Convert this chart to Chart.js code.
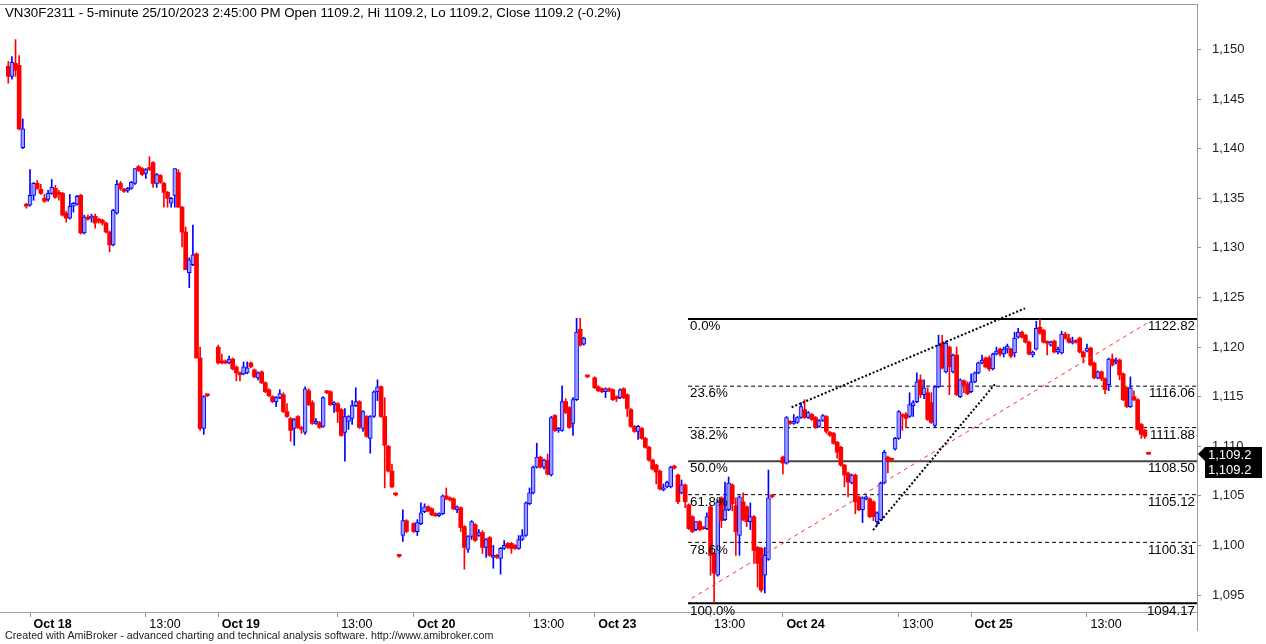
<!DOCTYPE html>
<html>
<head>
<meta charset="utf-8">
<script src="https://cdn.jsdelivr.net/npm/chart.js@4.4.0/dist/chart.umd.min.js"></script>
<style>
body { margin: 0; background: #fff; }
#wrap { position: relative; width: 1266px; height: 644px; }
#title { position: absolute; left: 5px; top: 5px; font: 13.3px "Liberation Sans", Arial, sans-serif; color: #000; white-space: nowrap; }
#foot { position: absolute; left: 5px; top: 629px; font: 10.7px "Liberation Sans", Arial, sans-serif; color: #222; white-space: nowrap; }
</style>
</head>
<body>
<div id="wrap">
<canvas id="c"></canvas>
<div id="title">VN30F2311 - 5-minute 25/10/2023 2:45:00 PM Open 1109.2, Hi 1109.2, Lo 1109.2, Close 1109.2 (-0.2%)</div>
<div id="foot">Created with AmiBroker - advanced charting and technical analysis software. http://www.amibroker.com</div>
</div>
<script>
// 5-minute bars, [open, high, low, close]
var oct17 = [
	[1148.3,1148.8,1146.6,1147.3],[1147.3,1149.3,1147.0,1148.7],[1148.6,1151.0,1147.3,1147.9],
	[1148.4,1149.4,1141.9,1142.0],[1140.1,1143.0,1140.0,1142.0],[1134.4,1134.5,1134.0,1134.2]
];
var oct18 = [
	[1134.3,1137.9,1134.2,1135.3],[1135.3,1136.6,1134.8,1136.5],[1136.5,1136.8,1135.9,1136.0],[1135.9,1136.4,1135.4,1135.5],
	[1135.0,1135.4,1134.6,1134.7],[1134.9,1135.8,1134.7,1135.5],[1135.5,1136.9,1135.4,1136.1],[1136.0,1136.3,1135.0,1135.1],
	[1135.6,1135.8,1134.8,1135.4],[1135.5,1135.6,1133.2,1133.3],[1133.5,1133.7,1132.6,1133.0],[1133.0,1135.4,1132.9,1134.2],
	[1134.2,1134.6,1133.6,1134.5],[1134.4,1135.3,1134.3,1135.2],[1135.3,1135.4,1131.4,1131.5],[1131.5,1133.3,1131.4,1133.1],
	[1133.1,1133.3,1132.8,1132.9],[1133.0,1133.4,1132.6,1133.2],[1133.2,1133.4,1132.0,1132.5],[1132.9,1133.0,1132.5,1132.7],
	[1132.8,1132.9,1132.3,1132.5],[1132.5,1132.6,1131.5,1131.6],[1131.6,1131.7,1129.6,1130.3],[1130.3,1133.9,1130.2,1133.8],
	[1133.5,1136.8,1133.4,1136.4],[1136.5,1136.7,1135.8,1136.0],[1135.9,1136.0,1135.6,1135.7],[1135.8,1136.1,1135.6,1136.0],
	[1136.0,1136.7,1135.9,1136.6],[1136.5,1138.0,1136.4,1138.0],[1138.2,1138.3,1137.7,1137.8],[1138.0,1138.1,1137.3,1137.4],
	[1137.5,1138.0,1137.0,1137.9],[1138.0,1139.2,1137.8,1137.9],[1138.6,1138.7,1136.1,1136.5],[1136.5,1137.5,1136.1,1137.4],
	[1137.3,1137.4,1136.5,1136.6],[1136.5,1136.6,1134.1,1135.6],[1135.6,1135.7,1134.1,1135.0],[1134.5,1135.1,1134.1,1135.0],
	[1135.3,1138.0,1134.1,1138.0],[1137.6,1137.9,1134.1,1134.1],[1134.1,1134.2,1130.1,1131.6],[1131.6,1132.1,1127.8,1127.8],
	[1127.5,1129.0,1126.0,1128.8],[1128.3,1132.3,1128.2,1129.3],[1129.4,1129.5,1118.9,1118.9],[1118.9,1120.0,1111.6,1111.8],
	[1111.8,1115.1,1111.2,1115.0],[1115.1,1115.2,1115.0,1115.1]
];
var oct19 = [
	[1120.0,1120.2,1118.3,1118.4],[1118.5,1119.3,1118.3,1118.4],[1118.6,1118.7,1118.3,1118.4],[1118.4,1119.1,1118.3,1118.8],
	[1118.8,1118.9,1117.7,1117.8],[1118.0,1118.1,1116.6,1117.4],[1117.4,1117.5,1116.6,1117.2],[1117.3,1118.5,1117.2,1118.0],
	[1117.4,1118.5,1117.3,1117.9],[1118.4,1118.5,1117.9,1118.0],[1117.7,1117.8,1116.9,1117.0],[1116.9,1117.5,1116.7,1117.4],
	[1117.5,1117.6,1116.3,1116.4],[1116.4,1116.5,1115.4,1115.5],[1115.7,1115.8,1115.0,1115.1],[1115.0,1115.1,1114.4,1114.5],
	[1114.5,1115.0,1114.0,1114.9],[1114.9,1115.7,1114.8,1115.3],[1115.2,1115.4,1113.4,1113.5],[1113.5,1114.3,1112.9,1113.0],
	[1112.8,1112.9,1110.5,1111.6],[1111.8,1112.8,1110.1,1112.7],[1113.0,1113.1,1111.8,1111.9],[1111.9,1112.0,1111.3,1111.7],
	[1111.4,1116.0,1111.2,1115.8],[1115.6,1115.8,1114.1,1114.2],[1114.4,1114.6,1112.2,1112.3],[1112.3,1112.8,1112.2,1112.5],
	[1112.4,1112.5,1111.8,1111.9],[1112.0,1115.0,1111.9,1114.9],[1115.5,1115.6,1115.3,1115.4],[1115.5,1115.6,1114.1,1114.2],
	[1114.2,1114.5,1113.4,1114.4],[1114.3,1114.4,1112.4,1113.5],[1113.7,1113.8,1111.0,1111.1],[1111.4,1113.8,1108.5,1113.0],
	[1112.5,1113.1,1111.7,1113.0],[1112.8,1114.6,1112.2,1114.1],[1114.1,1115.9,1114.0,1114.5],[1114.5,1114.6,1111.8,1111.9],
	[1111.8,1113.6,1111.5,1113.5],[1113.0,1113.1,1110.9,1111.0],[1110.8,1113.1,1109.3,1113.0],[1113.0,1115.6,1112.9,1115.5],
	[1115.5,1116.7,1114.6,1116.0],[1116.0,1116.1,1112.9,1113.0],[1113.0,1114.9,1105.8,1110.1],[1110.0,1110.1,1107.4,1107.5],
	[1107.5,1108.2,1105.8,1105.9],[1105.2,1105.3,1105.0,1105.1],[1099.0,1099.1,1098.8,1098.9],[1101.0,1103.6,1100.4,1102.5],
	[1102.5,1102.6,1101.3,1101.4]
];
var oct20 = [
	[1102.2,1102.3,1101.3,1101.4],[1101.4,1102.6,1101.0,1102.3],[1102.2,1104.3,1102.1,1103.3],[1103.4,1104.2,1103.3,1103.9],
	[1103.9,1104.0,1103.4,1103.5],[1103.7,1103.8,1103.0,1103.1],[1103.2,1103.3,1102.9,1103.0],[1103.0,1103.3,1102.9,1103.2],
	[1103.2,1105.1,1103.1,1105.0],[1105.0,1105.8,1104.6,1104.7],[1104.8,1104.9,1104.5,1104.6],[1104.7,1104.8,1103.6,1103.7],
	[1103.6,1104.0,1103.3,1103.9],[1103.8,1103.9,1101.4,1101.8],[1101.9,1102.0,1097.6,1099.8],[1099.6,1101.0,1099.3,1100.9],
	[1100.9,1102.5,1100.6,1102.4],[1102.1,1102.2,1100.4,1100.5],[1101.0,1101.6,1100.9,1101.3],[1101.3,1101.5,1099.2,1099.8],
	[1099.8,1100.7,1098.8,1100.6],[1100.8,1100.9,1098.9,1099.0],[1098.8,1100.0,1097.7,1099.0],[1099.0,1099.1,1098.7,1098.8],
	[1098.7,1099.8,1097.1,1099.7],[1099.7,1100.5,1099.6,1100.0],[1100.2,1100.3,1099.7,1099.8],[1100.2,1100.3,1099.2,1099.7],
	[1100.0,1100.1,1099.6,1099.7],[1099.7,1101.0,1099.6,1100.6],[1100.6,1101.6,1100.5,1101.0],[1101.0,1104.4,1100.9,1104.3],
	[1104.2,1105.8,1104.1,1105.3],[1105.3,1108.0,1105.2,1107.9],[1107.9,1110.3,1107.8,1108.9],[1108.9,1109.0,1107.8,1107.9],
	[1107.9,1108.7,1107.7,1108.6],[1108.6,1109.2,1107.1,1107.2],[1107.1,1113.0,1107.0,1112.9],[1113.1,1113.2,1111.5,1111.6],
	[1111.6,1111.9,1111.4,1111.8],[1111.6,1116.1,1111.5,1114.5],[1114.5,1114.8,1113.3,1113.4],[1113.9,1114.0,1111.8,1111.9],
	[1112.3,1114.9,1111.1,1114.7],[1114.7,1122.9,1114.6,1121.5],[1121.8,1122.9,1120.1,1120.2],[1120.3,1121.0,1120.2,1120.9],
	[1117.0,1117.1,1116.9,1117.0]
];
var oct23 = [
	[1116.9,1117.0,1115.8,1115.9],[1116.0,1116.1,1115.5,1115.6],[1115.8,1115.9,1115.4,1115.5],[1115.5,1115.9,1114.9,1115.8],
	[1115.8,1115.9,1115.5,1115.6],[1115.7,1115.8,1114.6,1114.7],[1115.0,1115.1,1114.5,1114.8],[1114.9,1115.8,1114.8,1115.7],
	[1115.8,1115.9,1114.8,1114.9],[1115.2,1115.3,1113.0,1113.8],[1113.7,1113.8,1111.9,1112.0],[1112.0,1112.1,1111.4,1111.5],
	[1111.5,1112.1,1110.7,1112.0],[1111.8,1111.9,1110.7,1110.8],[1110.8,1110.9,1109.8,1109.9],[1109.9,1110.0,1108.5,1108.6],
	[1108.6,1108.7,1107.6,1107.7],[1108.1,1108.2,1106.2,1107.4],[1107.5,1107.6,1105.6,1105.7],[1105.6,1106.2,1105.5,1105.8],
	[1105.9,1106.5,1105.8,1106.4],[1105.9,1108.0,1105.8,1107.9],[1108.0,1108.1,1107.7,1107.8],[1107.1,1107.2,1104.2,1104.4],
	[1105.3,1106.6,1105.2,1106.1],[1106.1,1106.2,1103.8,1104.4],[1104.1,1104.2,1101.6,1101.7],[1102.9,1103.0,1101.3,1101.4],
	[1101.6,1102.4,1101.5,1102.4],[1102.4,1102.5,1101.5,1101.6],[1101.7,1101.8,1101.6,1101.7],[1101.7,1103.3,1101.6,1102.9],
	[1103.9,1104.0,1097.0,1099.0],[1099.2,1099.3,1094.2,1097.2],[1097.0,1104.6,1096.9,1104.4],[1104.8,1104.9,1101.8,1102.5],
	[1102.6,1106.4,1102.5,1103.6],[1103.6,1106.9,1103.5,1106.3],[1106.1,1106.2,1103.5,1104.2],[1104.0,1104.8,1099.0,1101.4],
	[1101.0,1105.0,1099.0,1104.9],[1104.4,1105.3,1102.5,1102.6],[1103.9,1104.0,1101.9,1102.4],[1102.4,1104.3,1101.6,1102.9],
	[1102.9,1103.0,1098.2,1099.5],[1099.8,1099.9,1095.8,1098.2],[1099.7,1099.8,1095.3,1095.5],[1097.0,1099.8,1095.2,1099.0],
	[1098.6,1107.6,1098.5,1104.8],[1104.9,1105.0,1104.8,1104.9]
];
var oct24 = [
	[1108.9,1109.0,1107.2,1108.3],[1108.3,1113.0,1108.2,1112.9],[1112.5,1112.6,1112.2,1112.3],[1112.3,1113.2,1112.2,1112.5],
	[1112.4,1113.0,1112.3,1112.9],[1112.9,1114.4,1112.8,1114.0],[1113.7,1114.7,1112.8,1112.9],[1112.9,1113.5,1112.8,1113.4],
	[1113.2,1113.3,1112.6,1112.7],[1112.9,1113.0,1111.8,1111.9],[1112.0,1112.7,1111.9,1112.6],[1112.6,1113.2,1112.5,1113.1],
	[1113.0,1113.1,1111.3,1111.5],[1111.4,1111.5,1111.0,1111.1],[1111.3,1111.4,1110.2,1110.3],[1110.4,1110.5,1108.8,1109.4],
	[1109.9,1110.0,1108.0,1108.1],[1108.1,1108.2,1105.9,1107.1],[1107.3,1107.4,1104.9,1106.4],[1106.3,1107.2,1106.2,1107.1],
	[1107.1,1107.2,1103.2,1104.4],[1104.9,1105.0,1103.5,1103.6],[1103.6,1104.9,1102.3,1104.8],[1104.7,1105.0,1104.6,1104.9],
	[1104.7,1104.8,1102.8,1102.9],[1104.4,1104.5,1102.5,1102.9],[1102.4,1103.4,1102.0,1103.3],[1102.6,1106.4,1102.5,1106.3],
	[1106.3,1109.6,1106.2,1109.4],[1108.9,1109.0,1107.3,1108.6],[1108.6,1108.7,1108.5,1108.6],[1109.7,1110.9,1109.6,1110.8],
	[1110.8,1113.6,1110.7,1113.5],[1113.2,1113.3,1111.6,1113.0],[1113.2,1113.4,1111.9,1112.8],[1113.0,1115.4,1112.9,1114.2],
	[1114.1,1114.6,1113.0,1114.4],[1114.5,1117.4,1114.4,1116.5],[1116.7,1117.2,1114.9,1115.2],[1115.2,1116.7,1114.8,1115.9],
	[1115.4,1115.9,1112.6,1112.7],[1114.4,1115.4,1112.3,1112.4],[1112.1,1116.1,1111.9,1116.0],[1116.0,1121.2,1115.9,1120.2],
	[1120.4,1121.2,1117.8,1117.9],[1117.5,1120.6,1117.4,1120.4],[1120.0,1120.1,1115.2,1118.0],[1117.5,1119.3,1117.4,1119.2],
	[1119.2,1120.0,1115.1,1115.2],[1115.0,1116.8,1114.9,1116.7],[1116.6,1116.7,1115.4,1116.2],[1116.3,1116.5,1115.2,1115.3]
];
var oct25 = [
	[1115.5,1117.3,1115.4,1116.5],[1116.5,1117.5,1116.4,1117.4],[1117.4,1118.5,1117.3,1118.4],[1118.4,1119.2,1118.3,1118.7],
	[1118.9,1119.0,1117.9,1118.0],[1118.9,1119.1,1117.6,1117.8],[1117.8,1119.4,1117.7,1119.3],[1119.3,1120.0,1119.2,1119.6],
	[1119.8,1119.9,1119.1,1119.3],[1119.3,1120.0,1119.0,1119.8],[1119.8,1120.3,1119.4,1120.1],[1119.8,1119.9,1118.9,1119.1],
	[1119.4,1121.5,1119.0,1120.9],[1121.0,1121.9,1120.9,1121.5],[1121.5,1121.6,1120.9,1121.0],[1121.2,1121.3,1120.4,1120.5],
	[1120.5,1120.6,1119.2,1119.3],[1119.2,1119.6,1119.0,1119.5],[1119.8,1122.6,1119.7,1121.9],[1122.0,1122.82,1121.3,1121.4],
	[1121.7,1121.8,1120.4,1120.5],[1120.5,1120.6,1119.2,1120.4],[1120.2,1120.6,1120.1,1120.5],[1120.6,1120.7,1119.4,1119.5],
	[1119.5,1120.0,1119.3,1119.8],[1119.4,1121.6,1119.3,1121.3],[1121.3,1121.5,1120.8,1120.9],[1120.9,1121.3,1120.4,1120.5],
	[1120.4,1121.0,1120.3,1120.6],[1120.6,1120.7,1120.4,1120.5],[1120.9,1121.0,1119.4,1119.5],[1119.5,1119.6,1118.4,1119.0],
	[1119.6,1120.3,1119.5,1119.9],[1119.9,1120.0,1118.1,1118.2],[1118.4,1118.5,1116.8,1116.9],[1116.9,1117.6,1116.8,1117.5],
	[1117.5,1117.6,1116.6,1116.8],[1116.8,1116.9,1115.3,1115.7],[1116.2,1118.9,1115.6,1118.8],[1118.8,1119.3,1118.1,1118.2],
	[1118.5,1118.9,1118.3,1118.7],[1118.7,1118.8,1116.7,1117.2],[1117.3,1117.4,1114.6,1114.7],[1115.9,1116.0,1113.9,1114.0],
	[1114.0,1117.0,1113.9,1115.9],[1115.0,1115.6,1114.6,1114.7],[1114.7,1114.8,1111.6,1111.7],[1112.2,1112.3,1110.8,1111.2],
	[1111.6,1111.7,1110.8,1111.0],[1109.2,1109.2,1109.2,1109.2]
];
var days = [oct17, oct18, oct19, oct20, oct23, oct24, oct25];
var dayStart = [0, 6, 58, 112, 162, 214, 266]; // bar number of each session's first bar

var tickBars = [6, 38, 58, 91, 112, 144, 162, 194, 214, 246, 266, 298];
var tickLabels = ['Oct 18','13:00','Oct 19','13:00','Oct 20','13:00','Oct 23','13:00','Oct 24','13:00','Oct 25','13:00'];
var priceTicks = [1095, 1100, 1105, 1110, 1115, 1120, 1125, 1130, 1135, 1140, 1145, 1150];

// fibonacci retracement
var fibLabels = ['0.0%','23.6%','38.2%','50.0%','61.8%','78.6%','100.0%'];
var fibValues = [1122.82, 1116.06, 1111.88, 1108.50, 1105.12, 1100.31, 1094.17];
var fibFromBar = 187.8;

// hand drawn lines: [bar, price] pairs
var wedgeTop = [[216.4, 1113.93], [280.9, 1123.91]];
var wedgeBottom = [[238.9, 1101.55], [272.6, 1116.27]];
var redTrend = [[188.8, 1094.67], [314.5, 1122.39]];

var UP = '#0000ff', UP_FILL = '#9a9aff', DOWN = '#ff0000';
var FONT = '"Liberation Sans", Arial, sans-serif';

var bars = [];
days.forEach(function(d, k) {
	d.forEach(function(b, j) {
		bars.push({x: dayStart[k] + j, o: b[0], h: b[1], l: b[2], c: b[3]});
	});
});
function isUp(b) { return b.c > b.o; }
function pts(p) { return p.map(function(q) { return {x: q[0], y: q[1]}; }); }

var xMin = -2.29, xMax = 328.4;
var datasets = [
	{
		type: 'bar', label: 'body', order: 1, grouped: false,
		data: bars.map(function(b) { return {x: b.x, y: [Math.min(b.o, b.c), Math.max(b.o, b.c)]}; }),
		backgroundColor: bars.map(function(b) { return isUp(b) ? UP_FILL : DOWN; }),
		borderColor: bars.map(function(b) { return isUp(b) ? UP : DOWN; }),
		borderWidth: bars.map(function(b) { return isUp(b) ? 1 : 0; }),
		borderSkipped: false, barThickness: 4, minBarLength: 2
	},
	{
		type: 'bar', label: 'wick', order: 2, grouped: false,
		data: bars.map(function(b) { return {x: b.x, y: [b.l, b.h]}; }),
		backgroundColor: bars.map(function(b) { return isUp(b) ? UP : DOWN; }),
		borderWidth: 0, borderSkipped: false, barThickness: 1, minBarLength: 1
	}
];
fibValues.forEach(function(v, i) {
	var solid = i === 0 || i === 3 || i === 6;
	datasets.push({
		type: 'line', order: 3, data: [{x: fibFromBar, y: v}, {x: xMax, y: v}],
		borderColor: i === 3 ? '#444' : '#000', borderWidth: solid ? 2 : 1,
		borderDash: solid ? [] : [4, 3], pointRadius: 0
	});
});
datasets.push({type: 'line', order: 0, data: pts(wedgeTop), borderColor: '#000', borderWidth: 2, borderDash: [2, 2], pointRadius: 0});
datasets.push({type: 'line', order: 0, data: pts(wedgeBottom), borderColor: '#000', borderWidth: 2, borderDash: [2, 2], pointRadius: 0});
datasets.push({type: 'line', order: 0, data: pts(redTrend), borderColor: '#ff3030', borderWidth: 1, borderDash: [4, 4], pointRadius: 0});

var overlay = {
	id: 'overlay',
	afterDraw: function(chart) {
		var ctx = chart.ctx, xs = chart.scales.x, ys = chart.scales.y, a = chart.chartArea;
		ctx.save();
		ctx.strokeStyle = '#9a9a9a';
		ctx.lineWidth = 1;
		ctx.beginPath();
		ctx.moveTo(0, 4.5); ctx.lineTo(a.right, 4.5);
		ctx.moveTo(a.right + 0.5, 4); ctx.lineTo(a.right + 0.5, 631);
		ctx.stroke();

		ctx.font = '13.3px ' + FONT;
		ctx.fillStyle = '#000';
		ctx.textBaseline = 'top';
		fibValues.forEach(function(v, i) {
			var y = ys.getPixelForValue(v);
			ctx.textAlign = 'left';
			ctx.fillText(fibLabels[i], xs.getPixelForValue(fibFromBar) + 2, y + 1);
			ctx.textAlign = 'right';
			ctx.fillText(v.toFixed(2), a.right - 2, y + 1);
		});

		// last price tag
		var last = bars[bars.length - 1].c;
		var yp = Math.round(ys.getPixelForValue(last));
		ctx.fillStyle = '#000';
		ctx.beginPath();
		ctx.moveTo(a.right + 1, yp);
		ctx.lineTo(a.right + 8, yp - 7);
		ctx.lineTo(1262, yp - 7);
		ctx.lineTo(1262, yp + 24);
		ctx.lineTo(a.right + 8, yp + 24);
		ctx.lineTo(a.right + 8, yp + 7);
		ctx.closePath();
		ctx.fill();
		var txt = last.toLocaleString('en-US', {minimumFractionDigits: 1, maximumFractionDigits: 1});
		ctx.font = '13px ' + FONT;
		ctx.fillStyle = '#fff';
		ctx.textAlign = 'left';
		ctx.textBaseline = 'middle';
		ctx.fillText(txt, a.right + 11, yp + 1);
		ctx.fillText(txt, a.right + 11, yp + 16);
		ctx.restore();
	}
};

function noPad(s) { s.paddingTop = 0; s.paddingBottom = 0; s.paddingLeft = 0; s.paddingRight = 0; }

new Chart(document.getElementById('c').getContext('2d'), {
	type: 'bar',
	data: {datasets: datasets},
	plugins: [overlay],
	options: {
		responsive: true, maintainAspectRatio: false, animation: false,
		layout: {padding: {top: 5, left: 0, right: 0, bottom: 0}},
		plugins: {legend: {display: false}, tooltip: {enabled: false}},
		scales: {
			x: {
				type: 'linear', min: xMin, max: xMax, offset: false,
				grid: {offset: false, drawOnChartArea: false, drawTicks: true, tickLength: 5, color: '#909090'},
				border: {color: '#a0a0a0'},
				afterBuildTicks: function(s) { s.ticks = tickBars.map(function(v) { return {value: v}; }); },
				afterFit: function(s) { s.height = 32; noPad(s); },
				ticks: {
					autoSkip: false, maxRotation: 0, align: 'start', padding: 0, color: '#000',
					callback: function(v, i) { return ' ' + tickLabels[i]; },
					font: function(c) {
						var lab = tickLabels[c.index] || '';
						return {family: FONT, size: 12.5, weight: lab.indexOf('Oct') === 0 ? 'bold' : 'normal'};
					}
				}
			},
			y: {
				type: 'linear', position: 'right', min: 1093.29, max: 1154.49,
				grid: {drawOnChartArea: false, drawTicks: true, tickLength: 4, color: '#909090'},
				border: {color: '#a0a0a0'},
				afterBuildTicks: function(s) { s.ticks = priceTicks.map(function(v) { return {value: v}; }); },
				afterFit: function(s) { s.width = 69; noPad(s); },
				ticks: {
					padding: 11, color: '#222', font: {family: FONT, size: 13},
					callback: function(v) { return v.toLocaleString('en-US'); }
				}
			}
		}
	}
});
</script>
</body>
</html>
